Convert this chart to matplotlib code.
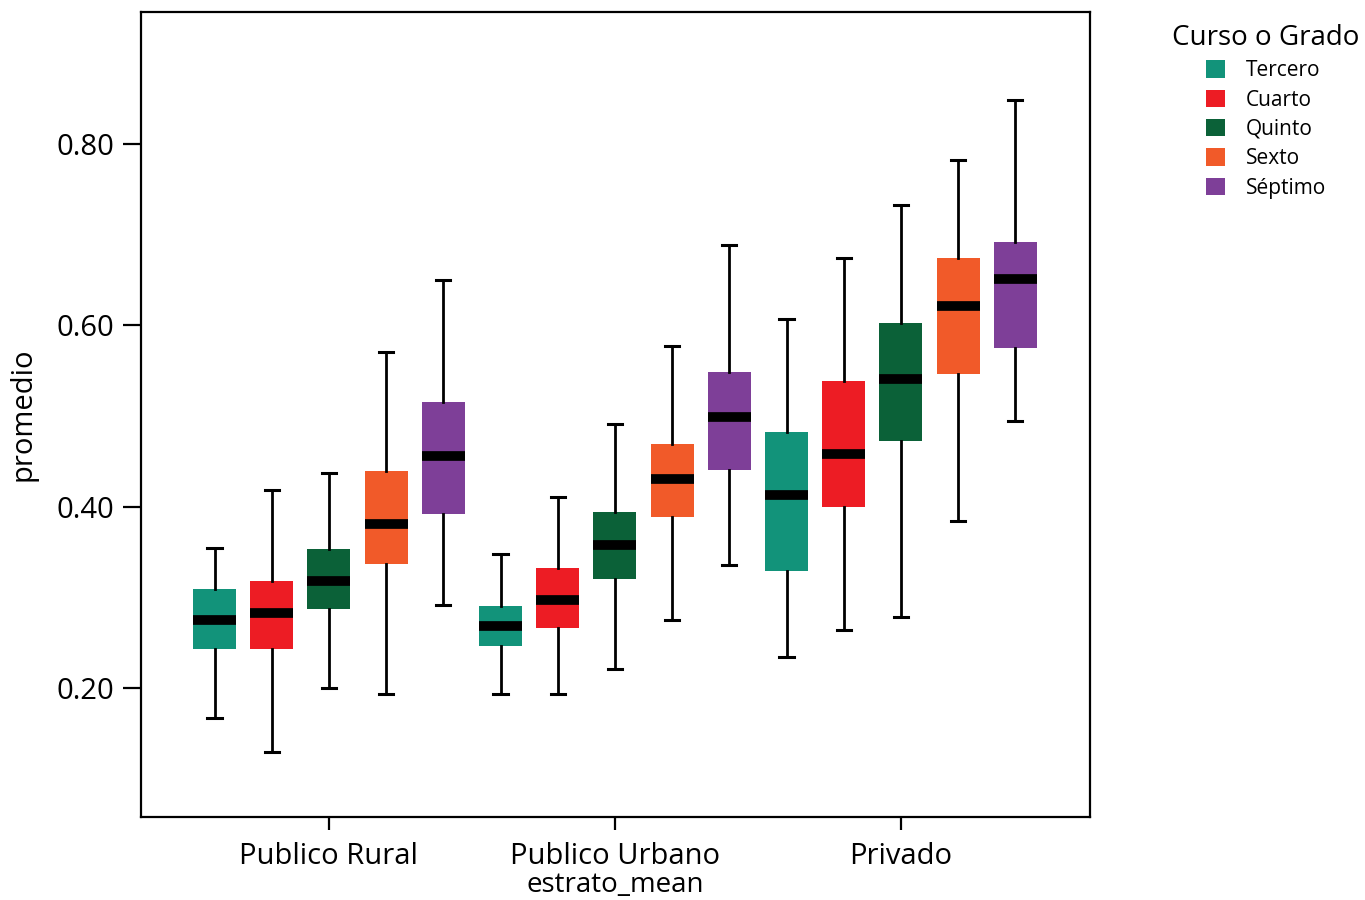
import matplotlib.pyplot as plt
from matplotlib.patches import Patch

plt.rcParams['font.family'] = ['Open Sans', 'DejaVu Sans']

# groups on the x axis and the grades within each group
estratos = ['Publico Rural', 'Publico Urbano', 'Privado']
cursos = ['Tercero', 'Cuarto', 'Quinto', 'Sexto', 'Séptimo']
colores = ['#12937A', '#ED1C24', '#0B6138', '#F15A29', '#7E3F98']

# box stats: [Tercero, Cuarto, Quinto, Sexto, Séptimo] per group
whislo = [[0.167, 0.129, 0.200, 0.193, 0.292],
          [0.193, 0.193, 0.221, 0.275, 0.336],
          [0.234, 0.264, 0.278, 0.384, 0.494]]
q1 = [[0.243, 0.243, 0.287, 0.337, 0.392],
      [0.246, 0.266, 0.320, 0.389, 0.440],
      [0.329, 0.400, 0.472, 0.546, 0.575]]
med = [[0.275, 0.283, 0.318, 0.381, 0.456],
       [0.268, 0.297, 0.358, 0.431, 0.499],
       [0.413, 0.458, 0.541, 0.621, 0.651]]
q3 = [[0.309, 0.318, 0.353, 0.439, 0.515],
      [0.290, 0.332, 0.394, 0.469, 0.549],
      [0.482, 0.539, 0.603, 0.674, 0.692]]
whishi = [[0.354, 0.418, 0.437, 0.571, 0.650],
          [0.348, 0.411, 0.491, 0.577, 0.689],
          [0.607, 0.674, 0.733, 0.782, 0.849]]

fig = plt.figure(figsize=(13.65, 9), dpi=100)
ax = fig.add_axes([0.1033, 0.0922, 0.6952, 0.8945])

offsets = [-0.4, -0.2, 0.0, 0.2, 0.4]
for g in range(len(estratos)):
    for k in range(len(cursos)):
        stats = [{'whislo': whislo[g][k], 'q1': q1[g][k], 'med': med[g][k],
                  'q3': q3[g][k], 'whishi': whishi[g][k], 'fliers': []}]
        ax.bxp(stats, positions=[g + offsets[k]], widths=0.15,
               patch_artist=True, showfliers=False, manage_ticks=False,
               boxprops=dict(facecolor=colores[k], edgecolor='none', linewidth=0),
               medianprops=dict(color='black', linewidth=7, solid_capstyle='butt'),
               whiskerprops=dict(color='black', linewidth=2),
               capprops=dict(color='black', linewidth=2.2),
               capwidths=0.05, zorder=2)

ax.set_xlim(-0.657, 2.661)
ax.set_ylim(0.0577, 0.9456)
ax.set_xticks(range(len(estratos)))
ax.set_xticklabels(estratos, fontsize=21)
ax.set_yticks([0.2, 0.4, 0.6, 0.8])
ax.set_yticklabels(['0.20', '0.40', '0.60', '0.80'], fontsize=21)
ax.tick_params(axis='y', length=13, width=1.6, pad=6)
ax.tick_params(axis='x', length=9, width=1.6, pad=9)
for s in ax.spines.values():
    s.set_linewidth(1.6)

ax.set_xlabel('estrato_mean', fontsize=20, labelpad=0)
ax.set_ylabel('promedio', fontsize=21, labelpad=14)

handles = [Patch(facecolor=c, edgecolor='none', label=n) for c, n in zip(colores, cursos)]
leg = fig.legend(handles=handles, title='Curso o Grado', loc='upper center',
                 bbox_to_anchor=(0.9275, 0.985), frameon=False, fontsize=15,
                 title_fontsize=20, handlelength=0.9, handleheight=0.9,
                 handletextpad=1.0, labelspacing=0.4, borderpad=0)

fig.savefig('out.png', dpi=100)
